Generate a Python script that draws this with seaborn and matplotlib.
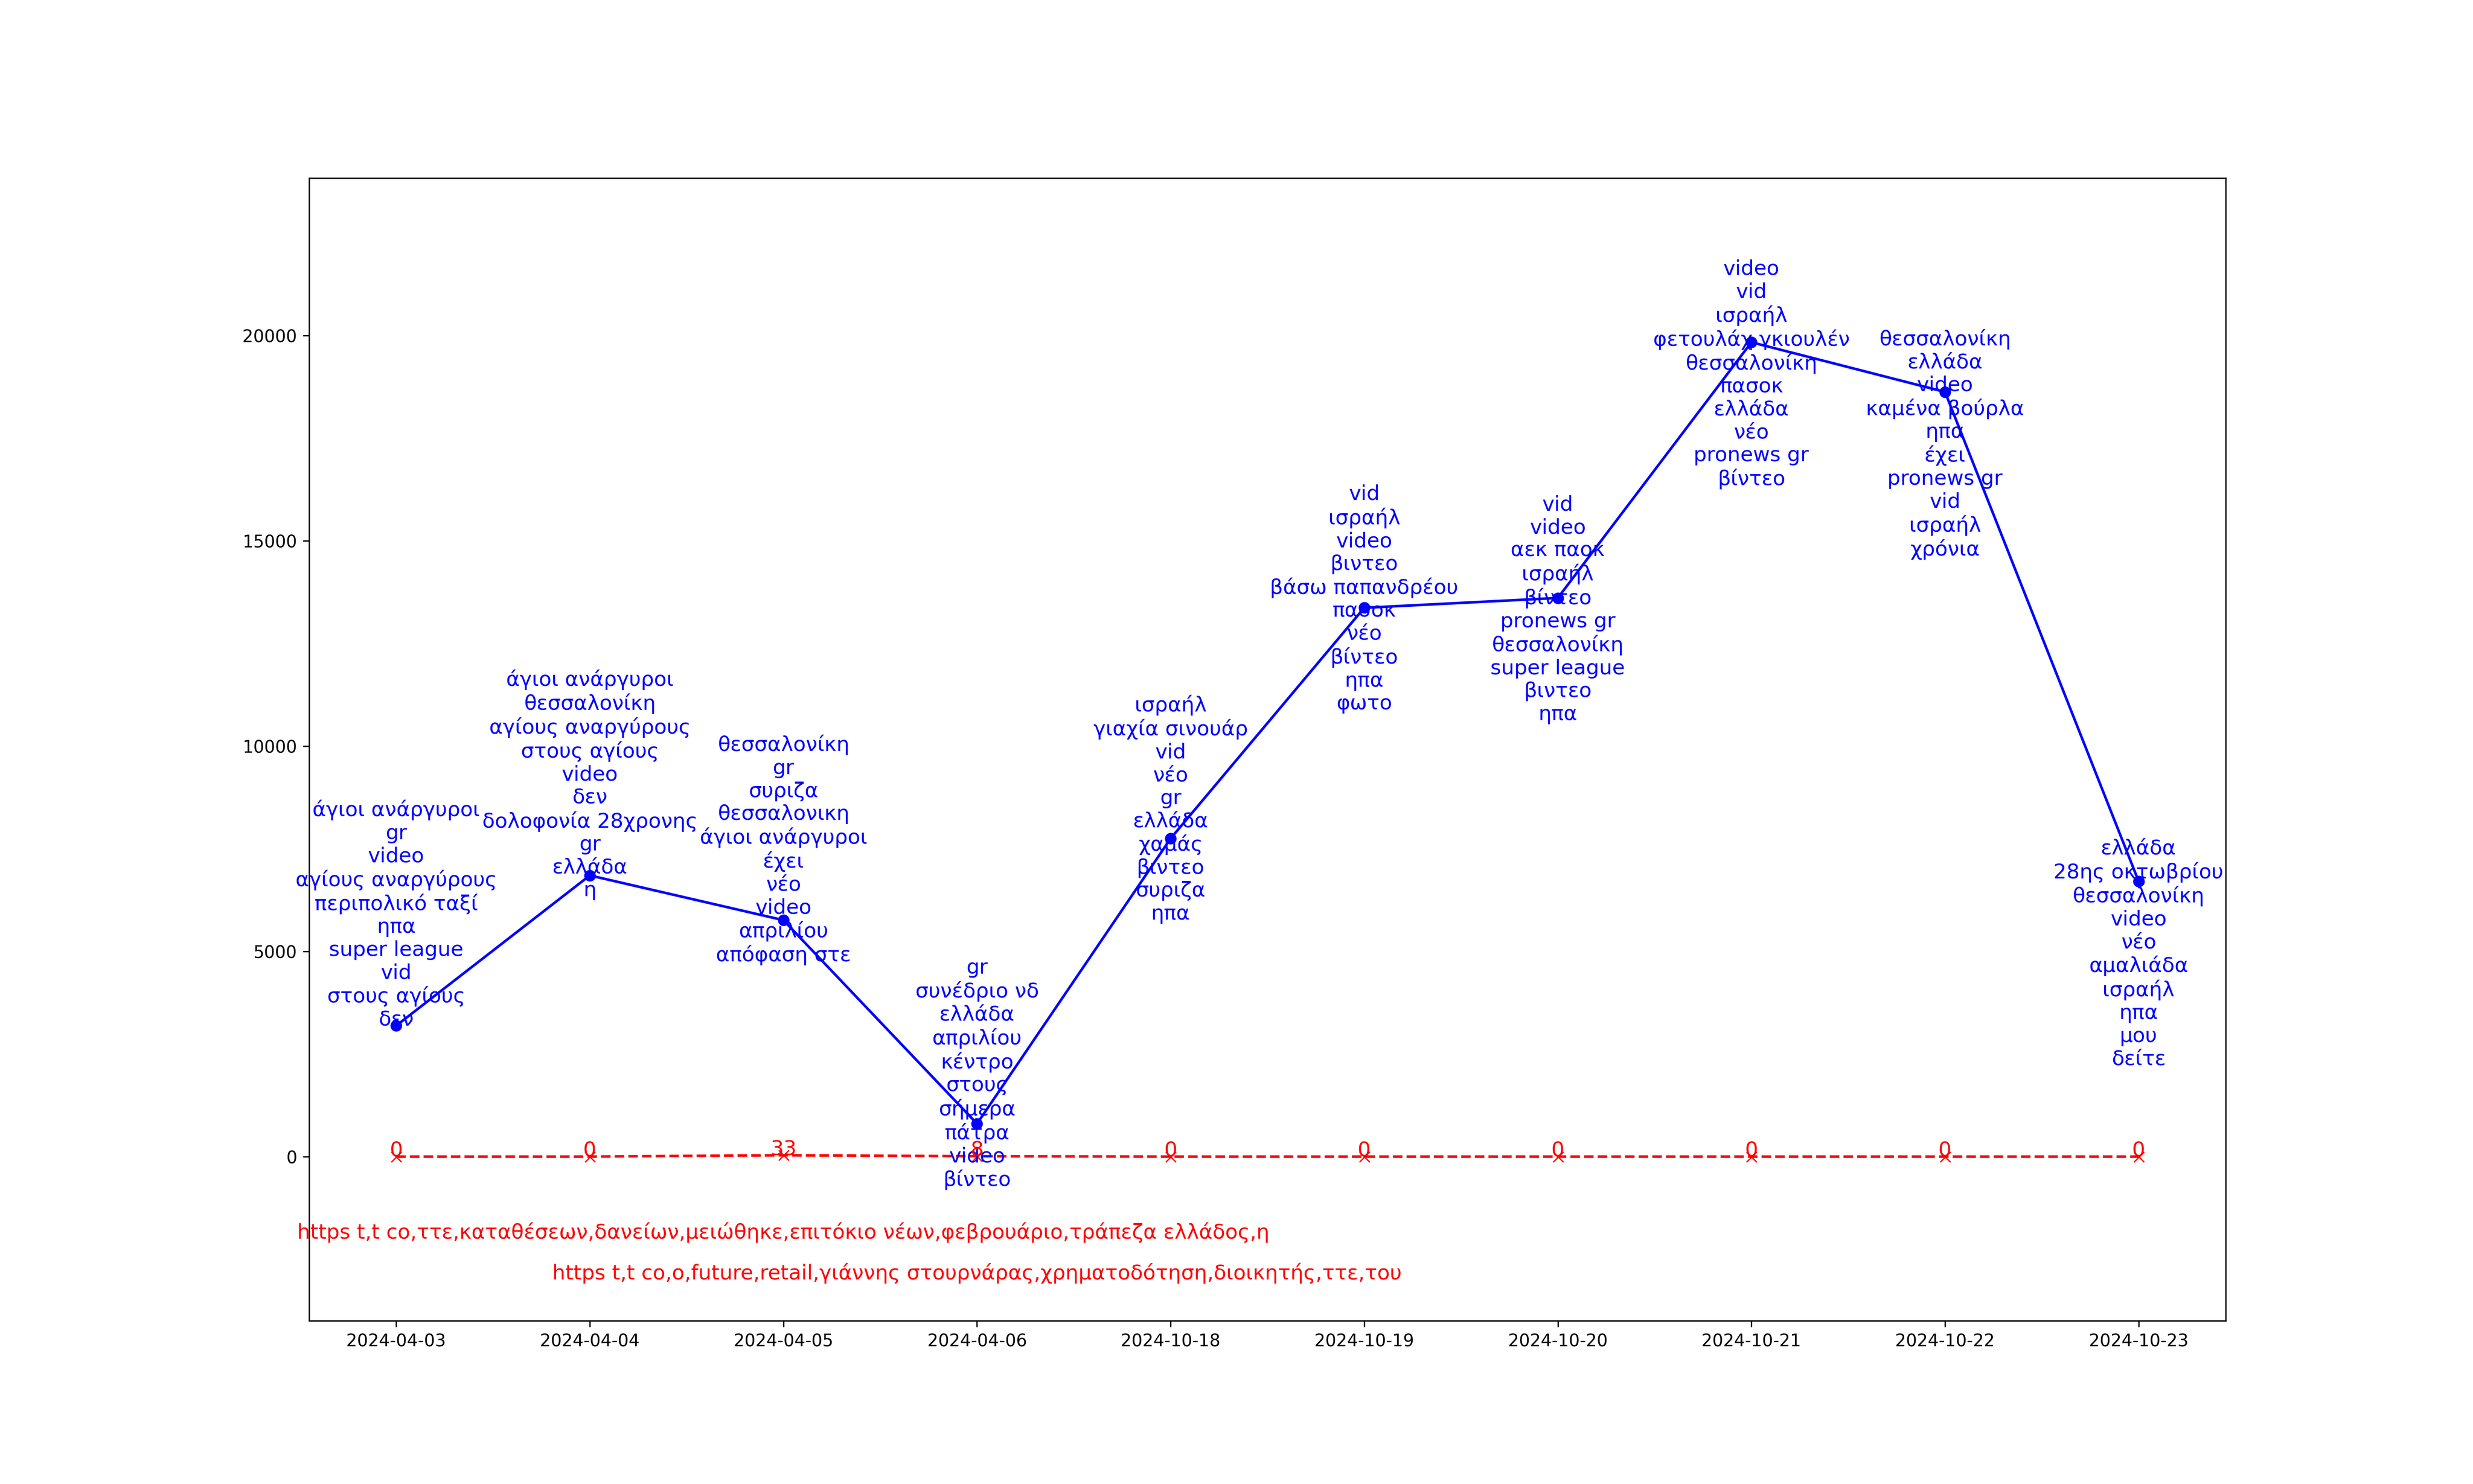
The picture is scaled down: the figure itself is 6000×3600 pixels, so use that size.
import matplotlib
matplotlib.use('Agg')
import matplotlib.pyplot as plt
import pandas as pd
import seaborn as sns

dates = ['2024-04-03', '2024-04-04', '2024-04-05', '2024-04-06', '2024-10-18',
         '2024-10-19', '2024-10-20', '2024-10-21', '2024-10-22', '2024-10-23']
counts = [3190, 6850, 5760, 800, 7750, 13370, 13610, 19840, 18630, 6710]
red_counts = [0, 0, 33, 8, 0, 0, 0, 0, 0, 0]

keywords = [
    ['άγιοι ανάργυροι', 'gr', 'video', 'αγίους αναργύρους', 'περιπολικό ταξί',
     'ηπα', 'super league', 'vid', 'στους αγίους', 'δεν'],
    ['άγιοι ανάργυροι', 'θεσσαλονίκη', 'αγίους αναργύρους', 'στους αγίους', 'video',
     'δεν', 'δολοφονία 28χρονης', 'gr', 'ελλάδα', 'η'],
    ['θεσσαλονίκη', 'gr', 'συριζα', 'θεσσαλονικη', 'άγιοι ανάργυροι',
     'έχει', 'νέο', 'video', 'απριλίου', 'απόφαση στε'],
    ['gr', 'συνέδριο νδ', 'ελλάδα', 'απριλίου', 'κέντρο',
     'στους', 'σήμερα', 'πάτρα', 'video', 'βίντεο'],
    ['ισραήλ', 'γιαχία σινουάρ', 'vid', 'νέο', 'gr',
     'ελλάδα', 'χαμάς', 'βιντεο', 'συριζα', 'ηπα'],
    ['vid', 'ισραήλ', 'video', 'βιντεο', 'βάσω παπανδρέου',
     'πασοκ', 'νέο', 'βίντεο', 'ηπα', 'φωτο'],
    ['vid', 'video', 'αεκ παοκ', 'ισραήλ', 'βίντεο',
     'pronews gr', 'θεσσαλονίκη', 'super league', 'βιντεο', 'ηπα'],
    ['video', 'vid', 'ισραήλ', 'φετουλάχ γκιουλέν', 'θεσσαλονίκη',
     'πασοκ', 'ελλάδα', 'νέο', 'pronews gr', 'βίντεο'],
    ['θεσσαλονίκη', 'ελλάδα', 'video', 'καμένα βούρλα', 'ηπα',
     'έχει', 'pronews gr', 'vid', 'ισραήλ', 'χρόνια'],
    ['ελλάδα', '28ης οκτωβρίου', 'θεσσαλονίκη', 'video', 'νέο',
     'αμαλιάδα', 'ισραήλ', 'ηπα', 'μου', 'δείτε'],
]

red_keywords = {
    2: 'https t,t co,ττε,καταθέσεων,δανείων,μειώθηκε,επιτόκιο νέων,φεβρουάριο,τράπεζα ελλάδος,η',
    3: 'https t,t co,ο,future,retail,γιάννης στουρνάρας,χρηματοδότηση,διοικητής,ττε,του',
}

df = pd.DataFrame({'date': dates, 'count': counts, 'red': red_counts})

fig, ax = plt.subplots(figsize=(20, 12))

sns.lineplot(data=df, x='date', y='count', color='blue', marker='o',
             markersize=6, markeredgecolor='blue', ax=ax)
sns.lineplot(data=df, x='date', y='red', color='red', marker='x',
             linestyle='--', markersize=6, markeredgecolor='red', ax=ax)

# keyword lists next to each blue point
for i, (v, words) in enumerate(zip(counts, keywords)):
    ax.text(i, v + 2700 - 497 * i, '\n'.join(words), color='blue',
            fontsize=12, ha='center', va='center')

for i, v in enumerate(red_counts):
    ax.text(i, v, str(v), color='red', fontsize=12, ha='center', va='baseline')

for k, (i, txt) in enumerate(red_keywords.items()):
    ax.text(i, -2000 - 1000 * k, txt, color='red', fontsize=12,
            ha='center', va='baseline')

ax.set_ylim(min(red_counts + counts) - 4000, max(counts) + 4000)
ax.set_xlabel('')
ax.set_ylabel('')

fig.savefig('out.png', dpi=300)
